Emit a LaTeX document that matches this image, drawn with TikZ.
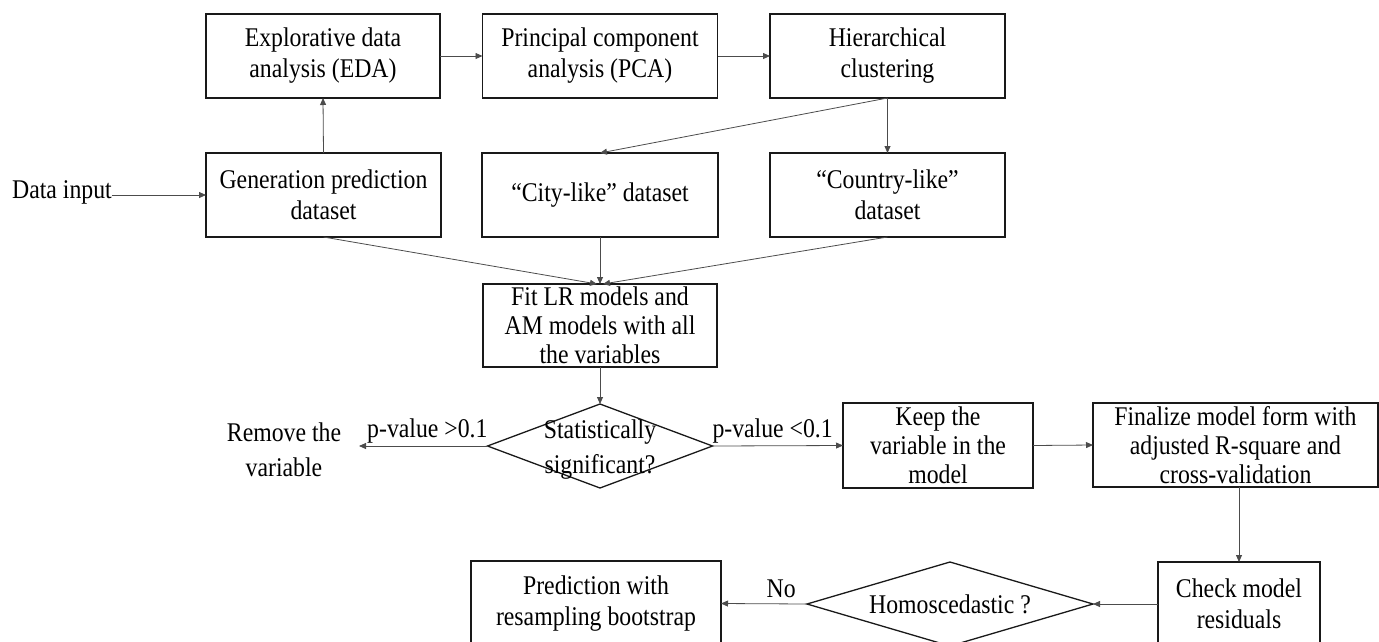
\documentclass[tikz,border=0pt]{standalone}
\usepackage{fontspec}
\setmainfont{Liberation Serif}[FakeStretch=0.88]
\usetikzlibrary{shapes.geometric,arrows.meta}
\begin{document}
\begin{tikzpicture}[x=1pt,y=-1pt,
  box/.style={draw=black!90, line width=1.3pt, inner sep=0pt, outer sep=0pt, align=center,
    font=\fontsize{27}{31}\selectfont},
  boxiii/.style={box, font=\fontsize{27}{29}\selectfont},
  dia/.style={draw=black!90, line width=1.3pt, diamond, inner sep=0pt, outer sep=0pt},
  txt/.style={inner sep=0pt, outer sep=0pt, align=center, font=\fontsize{27}{35}\selectfont},
  conn/.style={draw=black!70, line width=0.8pt, -{Triangle[length=7pt,width=6pt]}}
]
\useasboundingbox (0,0) rectangle (1379,641);
\clip (0,0) rectangle (1379,641);
% row 1
\node[box, minimum width=234pt, minimum height=84pt] (eda) at (323,56) {Explorative data\\analysis (EDA)};
\node[box, minimum width=235pt, minimum height=84pt] (pca) at (600,56) {Principal component\\analysis (PCA)};
\node[box, minimum width=235pt, minimum height=84pt] (hier) at (887.5,56) {Hierarchical\\clustering};
% row 2
\node[txt] (datain) at (62,192) {Data input};
\node[box, minimum width=235pt, minimum height=84pt] (gen) at (323.5,195) {Generation prediction\\dataset};
\node[box, minimum width=236pt, minimum height=84pt] (city) at (600,195) {``City-like'' dataset};
\node[box, minimum width=235pt, minimum height=84pt] (country) at (887.5,195) {``Country-like''\\dataset};
% fit
\node[boxiii, minimum width=234pt, minimum height=83pt] (fit) at (600,325.5) {Fit LR models and\\AM models with all\\the variables};
% decision 1
\node[dia, minimum width=225pt, minimum height=84pt] (d1) at (600,446) {};
\node[txt] (d1t) at (600,450) {Statistically\\significant?};
\node[txt] (remove) at (284,450) {Remove the\\variable};
\coordinate (rmend) at (359,446);
\node[boxiii, minimum width=190pt, minimum height=85pt] (keep) at (938,445.5) {Keep the\\variable in the\\model};
\node[boxiii, minimum width=285pt, minimum height=84pt] (fin) at (1235.5,445) {Finalize model form with\\adjusted R-square and\\cross-validation};
% bottom row
\node[box, minimum width=162pt, minimum height=84pt] (check) at (1239,604) {Check model\\residuals};
\node[dia, minimum width=286pt, minimum height=84pt] (d2) at (950,604) {};
\node[txt] (d2t) at (950,604) {Homoscedastic ?};
\node[box, minimum width=250pt, minimum height=85pt] (pred) at (596,603.5) {Prediction with\\resampling bootstrap};
% connectors
\draw[conn] (datain.east |- gen.west) -- (gen.west);
\draw[conn] (gen.north) -- (eda.south);
\draw[conn] (eda.east) -- (pca.west);
\draw[conn] (pca.east) -- (hier.west);
\draw[conn] (hier.south) -- (city.north);
\draw[conn] (hier.south) -- (country.north);
\draw[conn] (gen.south) -- ([xshift=-3pt]fit.north);
\draw[conn] (city.south) -- (fit.north);
\draw[conn] (country.south) -- ([xshift=3pt]fit.north);
\draw[conn] (fit.south) -- (d1.north);
\draw[conn] (d1.west) -- node[txt, anchor=south east, pos=0, yshift=3pt] {p-value >0.1} (rmend);
\draw[conn] (d1.east) -- node[txt, anchor=south west, pos=0, yshift=3pt] {p-value <0.1} (keep.west);
\draw[conn] (keep.east) -- (fin.west);
\draw[conn] (check.north |- fin.south) -- (check.north);
\draw[conn] (check.west) -- (d2.east);
\draw[conn] (d2.west) -- node[txt, pos=0.3, above=6pt] {No} (pred.east);
\end{tikzpicture}
\end{document}
